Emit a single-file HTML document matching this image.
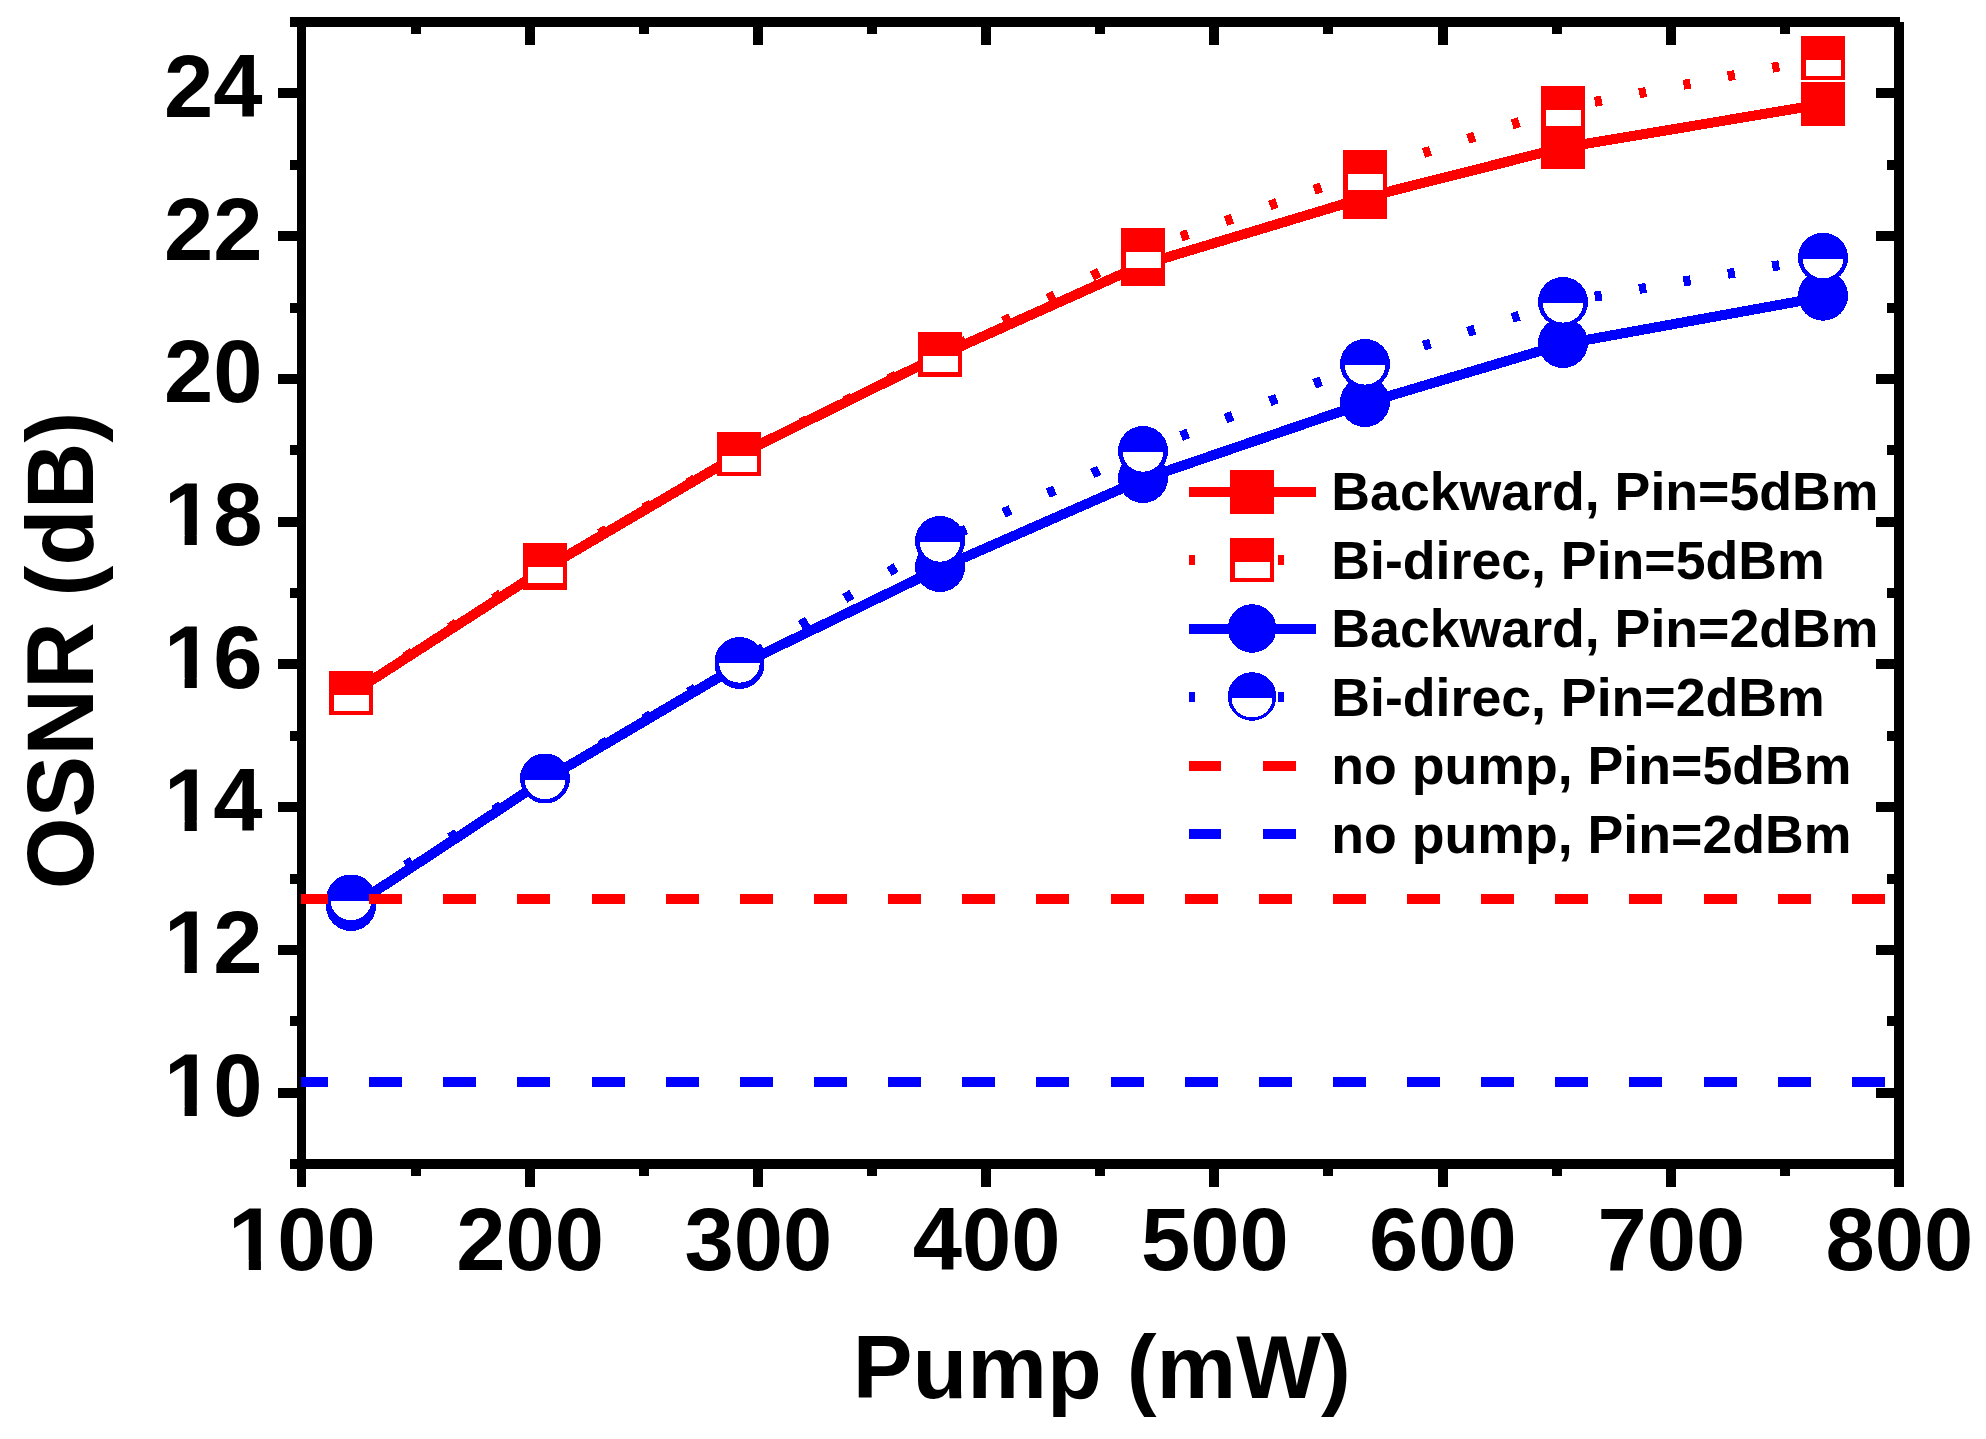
<!DOCTYPE html>
<html lang="en">
<head>
<meta charset="utf-8">
<title>OSNR vs Pump</title>
<style>html,body{margin:0;padding:0;background:#fff}svg{display:block}</style>
</head>
<body>
<svg width="1986" height="1439" viewBox="0 0 1986 1439" font-family="'Liberation Sans', Arial, Helvetica, sans-serif" font-weight="bold">
<rect width="1986" height="1439" fill="#fff"/>
<g fill="#000" shape-rendering="crispEdges">
<rect x="290" y="17" width="1610" height="10"/>
<rect x="290" y="1159" width="1610" height="10"/>
<rect x="297" y="22" width="9" height="1165"/>
<rect x="1894" y="22" width="10" height="1165"/>
<rect x="411" y="27" width="10" height="7"/>
<rect x="411" y="1169" width="10" height="7"/>
<rect x="525" y="27" width="10" height="18"/>
<rect x="525" y="1169" width="10" height="18"/>
<rect x="639" y="27" width="10" height="7"/>
<rect x="639" y="1169" width="10" height="7"/>
<rect x="753" y="27" width="10" height="18"/>
<rect x="753" y="1169" width="10" height="18"/>
<rect x="867" y="27" width="10" height="7"/>
<rect x="867" y="1169" width="10" height="7"/>
<rect x="981" y="27" width="10" height="18"/>
<rect x="981" y="1169" width="10" height="18"/>
<rect x="1095" y="27" width="10" height="7"/>
<rect x="1095" y="1169" width="10" height="7"/>
<rect x="1209" y="27" width="10" height="18"/>
<rect x="1209" y="1169" width="10" height="18"/>
<rect x="1323" y="27" width="10" height="7"/>
<rect x="1323" y="1169" width="10" height="7"/>
<rect x="1438" y="27" width="10" height="18"/>
<rect x="1438" y="1169" width="10" height="18"/>
<rect x="1552" y="27" width="10" height="7"/>
<rect x="1552" y="1169" width="10" height="7"/>
<rect x="1666" y="27" width="10" height="18"/>
<rect x="1666" y="1169" width="10" height="18"/>
<rect x="1780" y="27" width="10" height="7"/>
<rect x="1780" y="1169" width="10" height="7"/>
<rect x="278" y="1088" width="19" height="10"/>
<rect x="1876" y="1088" width="18" height="10"/>
<rect x="290" y="1016" width="7" height="10"/>
<rect x="1887" y="1016" width="7" height="10"/>
<rect x="278" y="945" width="19" height="10"/>
<rect x="1876" y="945" width="18" height="10"/>
<rect x="290" y="874" width="7" height="10"/>
<rect x="1887" y="874" width="7" height="10"/>
<rect x="278" y="802" width="19" height="10"/>
<rect x="1876" y="802" width="18" height="10"/>
<rect x="290" y="731" width="7" height="10"/>
<rect x="1887" y="731" width="7" height="10"/>
<rect x="278" y="659" width="19" height="10"/>
<rect x="1876" y="659" width="18" height="10"/>
<rect x="290" y="588" width="7" height="10"/>
<rect x="1887" y="588" width="7" height="10"/>
<rect x="278" y="517" width="19" height="10"/>
<rect x="1876" y="517" width="18" height="10"/>
<rect x="290" y="445" width="7" height="10"/>
<rect x="1887" y="445" width="7" height="10"/>
<rect x="278" y="374" width="19" height="10"/>
<rect x="1876" y="374" width="18" height="10"/>
<rect x="290" y="303" width="7" height="10"/>
<rect x="1887" y="303" width="7" height="10"/>
<rect x="278" y="231" width="19" height="10"/>
<rect x="1876" y="231" width="18" height="10"/>
<rect x="290" y="160" width="7" height="10"/>
<rect x="1887" y="160" width="7" height="10"/>
<rect x="278" y="88" width="19" height="10"/>
<rect x="1876" y="88" width="18" height="10"/>
</g>
<g shape-rendering="crispEdges">
<polyline points="351,693.6 545,568.6 739,454.6 940,355.6 1143,264.6 1365,197.6 1563,147.6 1823,104.1" fill="none" stroke="#ff0000" stroke-width="10" stroke-linejoin="round"/>
<rect x="329" y="671" width="44" height="44" fill="#ff0000"/>
<rect x="523" y="546" width="44" height="44" fill="#ff0000"/>
<rect x="717" y="432" width="44" height="44" fill="#ff0000"/>
<rect x="918" y="333" width="44" height="44" fill="#ff0000"/>
<rect x="1121" y="242" width="44" height="44" fill="#ff0000"/>
<rect x="1343" y="175" width="44" height="44" fill="#ff0000"/>
<rect x="1541" y="125" width="44" height="44" fill="#ff0000"/>
<rect x="1801" y="81.5" width="44" height="44" fill="#ff0000"/>
<path d="M538.5,569.3L545.5,564.7M494.1,598.6L501.1,593.9M449.8,627.8L456.8,623.2M405.4,657.1L412.4,652.5M361.1,686.3L368.1,681.7M732.5,457.7L739.5,453.7M688.1,483.1L695.1,479.1M643.8,508.5L650.8,504.5M599.5,533.8L606.5,529.8M555.1,559.2L562.1,555.2M933.5,357.2L940.5,353.8M889.1,379.3L896.1,375.8M844.8,401.4L851.8,397.9M800.5,423.4L807.5,419.9M756.1,445.5L763.1,442.0M1136.5,253.3L1143.5,249.7M1092.2,276.1L1099.2,272.5M1047.8,298.8L1054.8,295.2M1003.5,321.5L1010.5,317.9M959.1,344.2L966.1,340.6M1358.5,174.3L1365.5,171.8M1314.2,189.9L1321.2,187.4M1269.8,205.4L1276.8,203.0M1225.5,221.0L1232.5,218.6M1181.1,236.6L1188.1,234.2M1556.5,110.1L1563.5,107.8M1512.2,124.4L1519.2,122.2M1467.8,138.8L1474.8,136.5M1423.5,153.1L1430.5,150.8M1379.1,167.4L1386.1,165.2M1816.5,59.2L1823.5,57.9M1772.2,67.8L1779.2,66.4M1727.8,76.3L1734.8,75.0M1683.5,84.8L1690.5,83.5M1639.1,93.4L1646.1,92.0M1594.8,101.9L1601.8,100.5" fill="none" stroke="#ff0000" stroke-width="10"/>
<rect x="329" y="671" width="44" height="44" fill="#ff0000"/>
<rect x="333.5" y="695" width="35" height="15.5" fill="#fff"/>
<rect x="523" y="543" width="44" height="44" fill="#ff0000"/>
<rect x="527.5" y="567" width="35" height="15.5" fill="#fff"/>
<rect x="717" y="432" width="44" height="44" fill="#ff0000"/>
<rect x="721.5" y="456" width="35" height="15.5" fill="#fff"/>
<rect x="918" y="332" width="44" height="44" fill="#ff0000"/>
<rect x="922.5" y="356" width="35" height="15.5" fill="#fff"/>
<rect x="1121" y="228" width="44" height="44" fill="#ff0000"/>
<rect x="1125.5" y="252" width="35" height="15.5" fill="#fff"/>
<rect x="1343" y="150" width="44" height="44" fill="#ff0000"/>
<rect x="1347.5" y="174" width="35" height="15.5" fill="#fff"/>
<rect x="1541" y="86" width="44" height="44" fill="#ff0000"/>
<rect x="1545.5" y="110" width="35" height="15.5" fill="#fff"/>
<rect x="1801" y="36" width="44" height="44" fill="#ff0000"/>
<rect x="1805.5" y="60" width="35" height="15.5" fill="#fff"/>
<polyline points="351,907.2 545,779.7 739.5,665.2 940,568.2 1143,479.2 1365,403.2 1563,344.2 1823,296.9" fill="none" stroke="#0000ff" stroke-width="10" stroke-linejoin="round"/>
<circle cx="351" cy="906" r="25" fill="#0000ff"/>
<circle cx="545" cy="778.5" r="25" fill="#0000ff"/>
<circle cx="739.5" cy="664" r="25" fill="#0000ff"/>
<circle cx="940" cy="567" r="25" fill="#0000ff"/>
<circle cx="1143" cy="478" r="25" fill="#0000ff"/>
<circle cx="1365" cy="402" r="25" fill="#0000ff"/>
<circle cx="1563" cy="343" r="25" fill="#0000ff"/>
<circle cx="1823" cy="295.7" r="25" fill="#0000ff"/>
<path d="M538.5,782.6L545.5,778.2M494.1,810.2L501.1,805.8M449.8,837.9L456.8,833.5M405.4,865.5L412.4,861.2M361.1,893.2L368.1,888.8M733.0,665.9L740.0,661.7M688.6,692.5L695.6,688.3M644.3,719.0L651.3,714.8M600.0,745.6L607.0,741.4M555.6,772.2L562.6,768.0M933.5,544.9L940.5,540.7M889.1,571.7L896.1,567.5M844.8,598.5L851.8,594.2M800.5,625.2L807.5,621.0M756.1,652.0L763.1,647.8M1136.5,453.9L1143.5,450.8M1092.2,473.5L1099.2,470.4M1047.8,493.2L1054.8,490.1M1003.5,512.9L1010.5,509.8M959.1,532.5L966.1,529.4M1358.5,366.5L1365.5,363.8M1314.2,383.9L1321.2,381.2M1269.8,401.3L1276.8,398.6M1225.5,418.7L1232.5,415.9M1181.1,436.1L1188.1,433.3M1556.5,304.0L1563.5,301.8M1512.2,317.9L1519.2,315.7M1467.8,331.8L1474.8,329.6M1423.5,345.7L1430.5,343.5M1379.1,359.6L1386.1,357.4M1816.5,258.8L1823.5,257.6M1772.2,266.4L1779.2,265.2M1727.8,273.9L1734.8,272.7M1683.5,281.5L1690.5,280.3M1639.1,289.0L1646.1,287.8M1594.8,296.6L1601.8,295.4" fill="none" stroke="#0000ff" stroke-width="10"/>
<circle cx="351" cy="899.5" r="25" fill="#0000ff"/>
<path d="M330.80,900.9H371.20A20.20,19.30 0 0 1 330.80,900.9Z" fill="#fff"/>
<circle cx="545" cy="778.5" r="25" fill="#0000ff"/>
<path d="M524.80,779.9H565.20A20.20,19.30 0 0 1 524.80,779.9Z" fill="#fff"/>
<circle cx="739.5" cy="662" r="25" fill="#0000ff"/>
<path d="M719.30,663.4H759.70A20.20,19.30 0 0 1 719.30,663.4Z" fill="#fff"/>
<circle cx="940" cy="541" r="25" fill="#0000ff"/>
<path d="M919.80,542.4H960.20A20.20,19.30 0 0 1 919.80,542.4Z" fill="#fff"/>
<circle cx="1143" cy="451" r="25" fill="#0000ff"/>
<path d="M1122.80,452.4H1163.20A20.20,19.30 0 0 1 1122.80,452.4Z" fill="#fff"/>
<circle cx="1365" cy="364" r="25" fill="#0000ff"/>
<path d="M1344.80,365.4H1385.20A20.20,19.30 0 0 1 1344.80,365.4Z" fill="#fff"/>
<circle cx="1563" cy="302" r="25" fill="#0000ff"/>
<path d="M1542.80,303.4H1583.20A20.20,19.30 0 0 1 1542.80,303.4Z" fill="#fff"/>
<circle cx="1823" cy="257.7" r="25" fill="#0000ff"/>
<path d="M1802.80,259.09999999999997H1843.20A20.20,19.30 0 0 1 1802.80,259.09999999999997Z" fill="#fff"/>
</g>
<g shape-rendering="crispEdges">
<rect x="301" y="894" width="27" height="10" fill="#ff0000"/>
<rect x="369" y="894" width="33" height="10" fill="#ff0000"/>
<rect x="443" y="894" width="33" height="10" fill="#ff0000"/>
<rect x="517" y="894" width="33" height="10" fill="#ff0000"/>
<rect x="592" y="894" width="33" height="10" fill="#ff0000"/>
<rect x="666" y="894" width="33" height="10" fill="#ff0000"/>
<rect x="740" y="894" width="33" height="10" fill="#ff0000"/>
<rect x="814" y="894" width="33" height="10" fill="#ff0000"/>
<rect x="888" y="894" width="33" height="10" fill="#ff0000"/>
<rect x="962" y="894" width="33" height="10" fill="#ff0000"/>
<rect x="1036" y="894" width="33" height="10" fill="#ff0000"/>
<rect x="1111" y="894" width="33" height="10" fill="#ff0000"/>
<rect x="1185" y="894" width="33" height="10" fill="#ff0000"/>
<rect x="1259" y="894" width="33" height="10" fill="#ff0000"/>
<rect x="1333" y="894" width="33" height="10" fill="#ff0000"/>
<rect x="1407" y="894" width="33" height="10" fill="#ff0000"/>
<rect x="1481" y="894" width="33" height="10" fill="#ff0000"/>
<rect x="1555" y="894" width="33" height="10" fill="#ff0000"/>
<rect x="1629" y="894" width="33" height="10" fill="#ff0000"/>
<rect x="1704" y="894" width="33" height="10" fill="#ff0000"/>
<rect x="1778" y="894" width="33" height="10" fill="#ff0000"/>
<rect x="1852" y="894" width="33" height="10" fill="#ff0000"/>
<rect x="301" y="1077" width="27" height="10" fill="#0000ff"/>
<rect x="369" y="1077" width="33" height="10" fill="#0000ff"/>
<rect x="443" y="1077" width="33" height="10" fill="#0000ff"/>
<rect x="517" y="1077" width="33" height="10" fill="#0000ff"/>
<rect x="592" y="1077" width="33" height="10" fill="#0000ff"/>
<rect x="666" y="1077" width="33" height="10" fill="#0000ff"/>
<rect x="740" y="1077" width="33" height="10" fill="#0000ff"/>
<rect x="814" y="1077" width="33" height="10" fill="#0000ff"/>
<rect x="888" y="1077" width="33" height="10" fill="#0000ff"/>
<rect x="962" y="1077" width="33" height="10" fill="#0000ff"/>
<rect x="1036" y="1077" width="33" height="10" fill="#0000ff"/>
<rect x="1111" y="1077" width="33" height="10" fill="#0000ff"/>
<rect x="1185" y="1077" width="33" height="10" fill="#0000ff"/>
<rect x="1259" y="1077" width="33" height="10" fill="#0000ff"/>
<rect x="1333" y="1077" width="33" height="10" fill="#0000ff"/>
<rect x="1407" y="1077" width="33" height="10" fill="#0000ff"/>
<rect x="1481" y="1077" width="33" height="10" fill="#0000ff"/>
<rect x="1555" y="1077" width="33" height="10" fill="#0000ff"/>
<rect x="1629" y="1077" width="33" height="10" fill="#0000ff"/>
<rect x="1704" y="1077" width="33" height="10" fill="#0000ff"/>
<rect x="1778" y="1077" width="33" height="10" fill="#0000ff"/>
<rect x="1852" y="1077" width="33" height="10" fill="#0000ff"/>
</g>
<g shape-rendering="crispEdges">
<rect x="1189" y="486.5" width="127" height="10" fill="#ff0000" shape-rendering="crispEdges"/>
<rect x="1230" y="469.5" width="44" height="44" fill="#ff0000"/>
<rect x="1189" y="555" width="6" height="10" fill="#ff0000" shape-rendering="crispEdges"/>
<rect x="1278" y="555" width="6" height="10" fill="#ff0000" shape-rendering="crispEdges"/>
<rect x="1230" y="538" width="44" height="44" fill="#ff0000"/>
<rect x="1234.5" y="562" width="35" height="15.5" fill="#fff"/>
<rect x="1189" y="623.5" width="127" height="10" fill="#0000ff" shape-rendering="crispEdges"/>
<circle cx="1252" cy="628.5" r="24.3" fill="#0000ff"/>
<rect x="1189" y="691.5" width="6" height="10" fill="#0000ff" shape-rendering="crispEdges"/>
<rect x="1278" y="691.5" width="6" height="10" fill="#0000ff" shape-rendering="crispEdges"/>
<circle cx="1252" cy="696.5" r="24.3" fill="#0000ff"/>
<path d="M1231.50,697.9H1272.50A20.50,19.60 0 0 1 1231.50,697.9Z" fill="#fff"/>
<rect x="1189" y="761" width="32" height="10" fill="#ff0000" shape-rendering="crispEdges"/>
<rect x="1263" y="761" width="33" height="10" fill="#ff0000" shape-rendering="crispEdges"/>
<rect x="1189" y="829" width="32" height="10" fill="#0000ff" shape-rendering="crispEdges"/>
<rect x="1263" y="829" width="33" height="10" fill="#0000ff" shape-rendering="crispEdges"/>
</g>
<g font-size="53.8" fill="#000">
<text transform="translate(1331.3,509.5) scale(0.9975,1)">Backward, Pin=5dBm</text>
<text transform="translate(1331.3,578.5) scale(0.9975,1)">Bi-direc, Pin=5dBm</text>
<text transform="translate(1331.3,646.5) scale(0.9975,1)">Backward, Pin=2dBm</text>
<text transform="translate(1331.3,715.5) scale(0.9975,1)">Bi-direc, Pin=2dBm</text>
<text transform="translate(1331.3,784) scale(0.9975,1)">no pump, Pin=5dBm</text>
<text transform="translate(1331.3,853) scale(0.9975,1)">no pump, Pin=2dBm</text>
</g>
<g font-size="88.6" fill="#000">
<text x="302.0" y="1270.0" text-anchor="middle">100</text>
<rect x="232.17" y="1260.16" width="16.60" height="11.04" fill="#fff"/>
<rect x="260.92" y="1260.16" width="15.47" height="11.04" fill="#fff"/>
<text x="530.2" y="1270.0" text-anchor="middle">200</text>
<text x="758.4" y="1270.0" text-anchor="middle">300</text>
<text x="986.6" y="1270.0" text-anchor="middle">400</text>
<text x="1214.8" y="1270.0" text-anchor="middle">500</text>
<text x="1443.0" y="1270.0" text-anchor="middle">600</text>
<text x="1671.3" y="1270.0" text-anchor="middle">700</text>
<text x="1899.5" y="1270.0" text-anchor="middle">800</text>
<text x="262.5" y="1116.0" text-anchor="end">10</text>
<rect x="168.03" y="1106.18" width="16.60" height="11.04" fill="#fff"/>
<rect x="196.79" y="1106.18" width="15.47" height="11.04" fill="#fff"/>
<text x="262.5" y="973.3" text-anchor="end">12</text>
<rect x="168.03" y="963.43" width="16.60" height="11.04" fill="#fff"/>
<rect x="196.79" y="963.43" width="15.47" height="11.04" fill="#fff"/>
<text x="262.5" y="830.5" text-anchor="end">14</text>
<rect x="168.03" y="820.68" width="16.60" height="11.04" fill="#fff"/>
<rect x="196.79" y="820.68" width="15.47" height="11.04" fill="#fff"/>
<text x="262.5" y="687.8" text-anchor="end">16</text>
<rect x="168.03" y="677.93" width="16.60" height="11.04" fill="#fff"/>
<rect x="196.79" y="677.93" width="15.47" height="11.04" fill="#fff"/>
<text x="262.5" y="545.0" text-anchor="end">18</text>
<rect x="168.03" y="535.18" width="16.60" height="11.04" fill="#fff"/>
<rect x="196.79" y="535.18" width="15.47" height="11.04" fill="#fff"/>
<text x="262.5" y="402.3" text-anchor="end">20</text>
<text x="262.5" y="259.5" text-anchor="end">22</text>
<text x="262.5" y="116.8" text-anchor="end">24</text>
</g>
<text transform="translate(1101.8,1398) scale(0.9985,1)" font-size="89.8" text-anchor="middle" fill="#000">Pump (mW)</text>
<text transform="translate(93,650.5) rotate(-90) scale(0.9735,1)" font-size="95" text-anchor="middle" fill="#000">OSNR (dB)</text>
</svg>
</body>
</html>
